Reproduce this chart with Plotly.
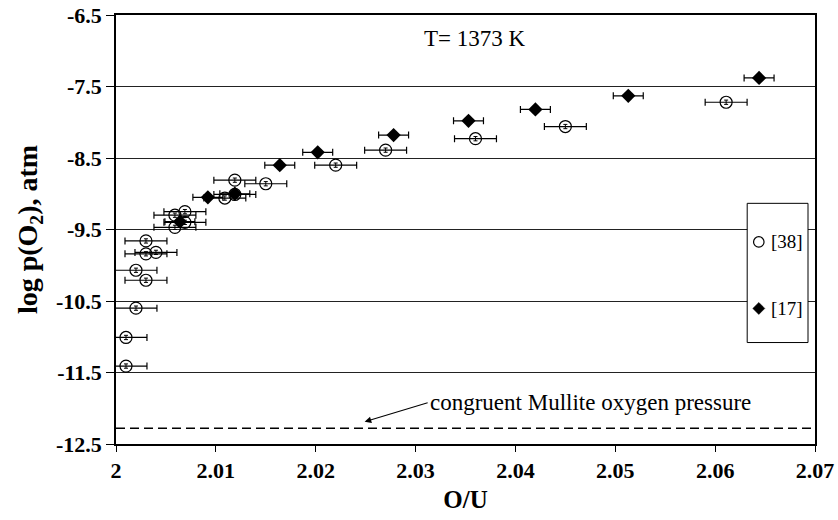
import plotly.graph_objects as go

# ---------------- data ----------------
# Series [38] (open circles)
ref38_ou = [2.0010, 2.0010, 2.0020, 2.0030, 2.0020, 2.0030, 2.0040, 2.0030,
            2.0059, 2.0069, 2.0059, 2.0069, 2.0109, 2.0119, 2.0119, 2.0150,
            2.0220, 2.0270, 2.0360, 2.0450, 2.0611]
ref38_logp = [-11.41, -11.01, -10.60, -10.21, -10.07, -9.84, -9.82, -9.66,
              -9.47, -9.40, -9.30, -9.25, -9.06, -9.01, -8.81, -8.86,
              -8.60, -8.39, -8.23, -8.06, -7.72]
ref38_err_ou = 0.0021
ref38_err_logp = 0.03

# Series [17] (filled diamonds)
ref17_ou = [2.0064, 2.0092, 2.0119, 2.0164, 2.0202, 2.0278, 2.0353, 2.0420,
            2.0513, 2.0644]
ref17_logp = [-9.39, -9.05, -9.00, -8.60, -8.42, -8.18, -7.98, -7.82,
              -7.63, -7.38]
ref17_err_ou = 0.0015

mullite_logp = -12.28

x_tickvals = [2.00, 2.01, 2.02, 2.03, 2.04, 2.05, 2.06, 2.07]
x_ticktext = ["2", "2.01", "2.02", "2.03", "2.04", "2.05", "2.06", "2.07"]
y_tickvals = [-6.5, -7.5, -8.5, -9.5, -10.5, -11.5, -12.5]
y_ticktext = ["-6.5", "-7.5", "-8.5", "-9.5", "-10.5", "-11.5", "-12.5"]

SERIF = "Liberation Serif, Times New Roman, serif"

fig = go.Figure()

fig.add_trace(go.Scatter(
    x=ref38_ou, y=ref38_logp, mode="markers", name="[38]",
    marker=dict(symbol="circle-open", size=12, color="black",
                line=dict(width=1.2, color="black")),
    error_x=dict(type="constant", value=ref38_err_ou, color="black",
                 thickness=1.2, width=3.5),
    error_y=dict(type="constant", value=ref38_err_logp, color="black",
                 thickness=1, width=2),
    showlegend=False,
))

fig.add_trace(go.Scatter(
    x=ref17_ou, y=ref17_logp, mode="markers", name="[17]",
    marker=dict(symbol="diamond", size=11, color="black"),
    error_x=dict(type="constant", value=ref17_err_ou, color="black",
                 thickness=1.2, width=3.5),
    showlegend=False,
))

# congruent Mullite line
fig.add_shape(type="line", xref="paper", x0=0, x1=1, yref="y",
              y0=mullite_logp, y1=mullite_logp,
              line=dict(color="black", width=1.6, dash="9px,5px"))

# legend box (manual)
fig.add_shape(type="rect", xref="paper", yref="paper",
              x0=0.903, x1=0.990, y0=0.2365, y1=0.561,
              line=dict(color="black", width=1), fillcolor="white",
              layer="above")
# legend symbols
cx, cy1, cy2 = 0.9196, 0.471, 0.316
fig.add_shape(type="circle", xref="paper", yref="paper",
              x0=cx - 0.0075, x1=cx + 0.0075, y0=cy1 - 0.0122, y1=cy1 + 0.0122,
              line=dict(color="black", width=1.2), fillcolor="white",
              layer="above")
dx, dy = 0.0086, 0.014
fig.add_shape(type="path", xref="paper", yref="paper",
              path=(f"M {cx - dx},{cy2} L {cx},{cy2 + dy} "
                    f"L {cx + dx},{cy2} L {cx},{cy2 - dy} Z"),
              line=dict(color="black", width=0.5), fillcolor="black",
              layer="above")
fig.add_annotation(xref="paper", yref="paper", x=0.9340, y=cy1,
                   xanchor="left", yanchor="middle", text="[38]",
                   showarrow=False,
                   font=dict(family=SERIF, size=19, color="black"))
fig.add_annotation(xref="paper", yref="paper", x=0.9340, y=cy2,
                   xanchor="left", yanchor="middle", text="[17]",
                   showarrow=False,
                   font=dict(family=SERIF, size=19, color="black"))

# temperature label
fig.add_annotation(x=2.036, y=-6.83, text="T= 1373 K", showarrow=False,
                   xanchor="center", yanchor="middle",
                   font=dict(family=SERIF, size=23, color="black"))

# mullite annotation with arrow
fig.add_annotation(x=2.0249, y=-12.19, ax=63, ay=-19,
                   text="congruent Mullite oxygen pressure",
                   xanchor="left", yanchor="middle",
                   showarrow=True, arrowhead=2, arrowsize=1.2, arrowwidth=1.1,
                   arrowcolor="black",
                   font=dict(family=SERIF, size=23, color="black"))

fig.update_layout(
    width=838, height=520,
    margin=dict(l=116, r=23, t=15, b=76, autoexpand=False),
    paper_bgcolor="white", plot_bgcolor="white",
    font=dict(family=SERIF, color="black"),
    xaxis=dict(range=[2.0, 2.07], tickvals=x_tickvals,
               ticktext=[f"<b>{t}</b>" for t in x_ticktext],
               showgrid=False, zeroline=False, automargin=False,
               showline=True, mirror=True, linecolor="black", linewidth=1.5,
               ticks="outside", ticklen=6, tickwidth=1, tickcolor="black",
               tickfont=dict(family=SERIF, size=22, color="black"),
               title=dict(text="<b>O/U</b>", standoff=8,
                          font=dict(family=SERIF, size=25, color="black"))),
    yaxis=dict(range=[-12.5, -6.5], tickvals=y_tickvals,
               ticktext=[f"<b>{t}</b>" for t in y_ticktext],
               showgrid=True, gridcolor="#222", gridwidth=1, zeroline=False,
               automargin=False,
               showline=True, mirror=True, linecolor="black", linewidth=1.5,
               ticks="outside", ticklen=8, tickwidth=1, tickcolor="black",
               tickfont=dict(family=SERIF, size=22, color="black"),
               title=dict(text="<b>log p(O<sub>2</sub>), atm</b>", standoff=10,
                          font=dict(family=SERIF, size=28, color="black"))),
)

fig.write_html("out.html")
